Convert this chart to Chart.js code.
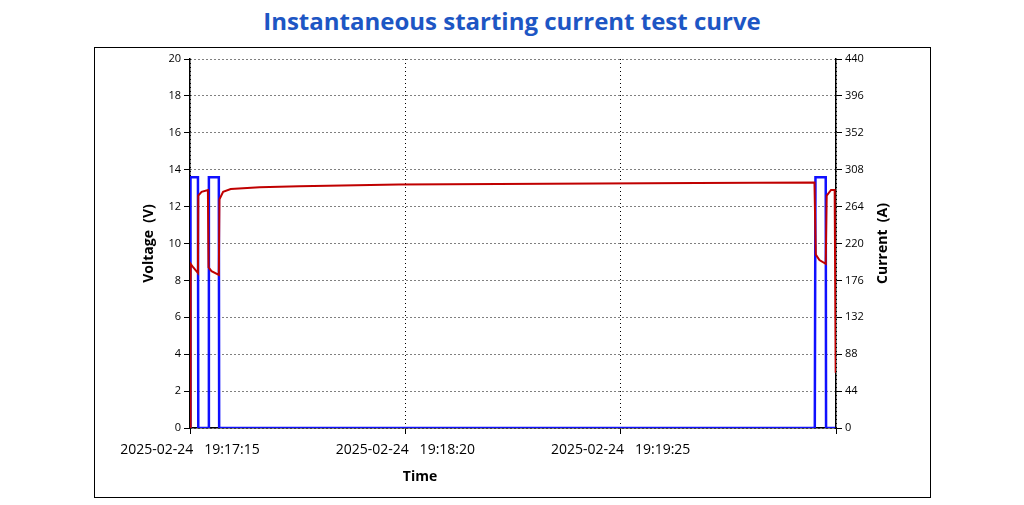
<!DOCTYPE html>
<html><head><meta charset="utf-8">
<script src="https://cdn.jsdelivr.net/npm/chart.js@4.4.1/dist/chart.umd.min.js"></script>
<style>
body{margin:0;background:#fff;width:1024px;height:505px;position:relative;font-family:"Open Sans",sans-serif;overflow:hidden}
#title{position:absolute;top:4px;left:0;width:1024px;text-align:center;color:#1d56c4;font-weight:bold;font-size:24px;font-family:"Open Sans",sans-serif}
#box{position:absolute;left:94px;top:47px;width:835px;height:449px;border:1px solid #000}
</style></head><body>
<div id="title">Instantaneous starting current test curve</div>
<div id="box"><canvas id="c" width="835" height="449"></canvas></div>
<script>
const xTickLabels={0:"2025-02-24   19:17:15",65:"2025-02-24   19:18:20",130:"2025-02-24   19:19:25"};
const axisTitles={x:"Time",y:"Voltage  (V)",y1:"Current  (A)"};
const voltageT=[0,0.2,1,2.4,2.5,3.5,5.4,5.6,6.5,8.7,8.9,10,12.3,21,33,63,93,123,153,188.5,188.9,190,191.9,192.2,193.5,194.6,194.9];
const voltageV=[0,8.9,8.7,8.4,12.6,12.8,12.9,8.7,8.5,8.3,12.4,12.8,12.95,13.05,13.1,13.2,13.22,13.25,13.28,13.3,9.4,9.1,8.9,12.6,12.9,12.9,3];
const currentT=[0,0.15,2.4,2.5,5.6,5.7,8.7,8.8,188.6,188.8,191.9,192.0,194.8];
const currentA=[0,299,299,0,0,299,299,0,0,299,299,0,0];
const toPts=(xs,ys)=>xs.map((x,i)=>({x:x,y:ys[i]}));
const dotted=[1,3];
const titlePlugin={id:'titles',afterDraw(c){
 const ctx=c.ctx,a=c.chartArea;ctx.save();
 ctx.fillStyle='#000';ctx.font='bold 14px "Open Sans",sans-serif';ctx.textAlign='center';ctx.textBaseline='middle';
 ctx.fillText(axisTitles.x,(a.left+a.right)/2-93+94-94+ (512-94-(a.left+a.right)/2),476-47);
 const cy=(a.top+a.bottom)/2;
 [[148-94,axisTitles.y],[882-94,axisTitles.y1]].forEach(([x,t])=>{ctx.save();ctx.translate(x,cy);ctx.rotate(-Math.PI/2);ctx.fillText(t,0,0);ctx.restore();});
 ctx.restore();}};
new Chart(document.getElementById('c'),{
type:'line',
data:{datasets:[
{data:toPts(voltageT,voltageV),yAxisID:'y',borderColor:'#c00000',borderWidth:2,pointRadius:0,tension:0},
{data:toPts(currentT,currentA),yAxisID:'y1',borderColor:'#1010ff',borderWidth:2.5,pointRadius:0,tension:0}
]},
plugins:[titlePlugin],
options:{responsive:false,animation:false,
layout:{padding:{top:11}},
plugins:{legend:{display:false},tooltip:{enabled:false}},
scales:{
x:{type:'linear',min:0,max:195,
 afterFit:s=>{s.height=69},
 afterBuildTicks:s=>{s.ticks=[0,65,130,195].map(v=>({value:v}))},
 ticks:{autoSkip:false,maxRotation:0,padding:8,color:'#000',font:{size:14,family:'"Open Sans",sans-serif'},callback:v=>xTickLabels[v]||''},
 grid:{color:'#000',tickBorderDash:[],tickLength:6,tickColor:'#000'},
 border:{color:'#000',width:1.5,dash:dotted}},
y:{position:'left',min:0,max:20,
 afterFit:s=>{s.width=95},
 ticks:{stepSize:2,color:'#000',font:{size:11,family:'"Open Sans",sans-serif'}},
 grid:{color:'#000',tickBorderDash:[],tickLength:6,tickColor:'#000'},
 border:{color:'#000',width:1.5,dash:dotted}},
y1:{position:'right',min:0,max:440,
 afterFit:s=>{s.width=94},
 afterBuildTicks:s=>{s.ticks=[];for(let v=0;v<=440;v+=44)s.ticks.push({value:v})},
 ticks:{color:'#000',font:{size:11,family:'"Open Sans",sans-serif'}},
 grid:{drawOnChartArea:false,tickLength:6,tickColor:'#000'},
 border:{color:'#000',width:1.5}}
}}
});
</script>
</body></html>
